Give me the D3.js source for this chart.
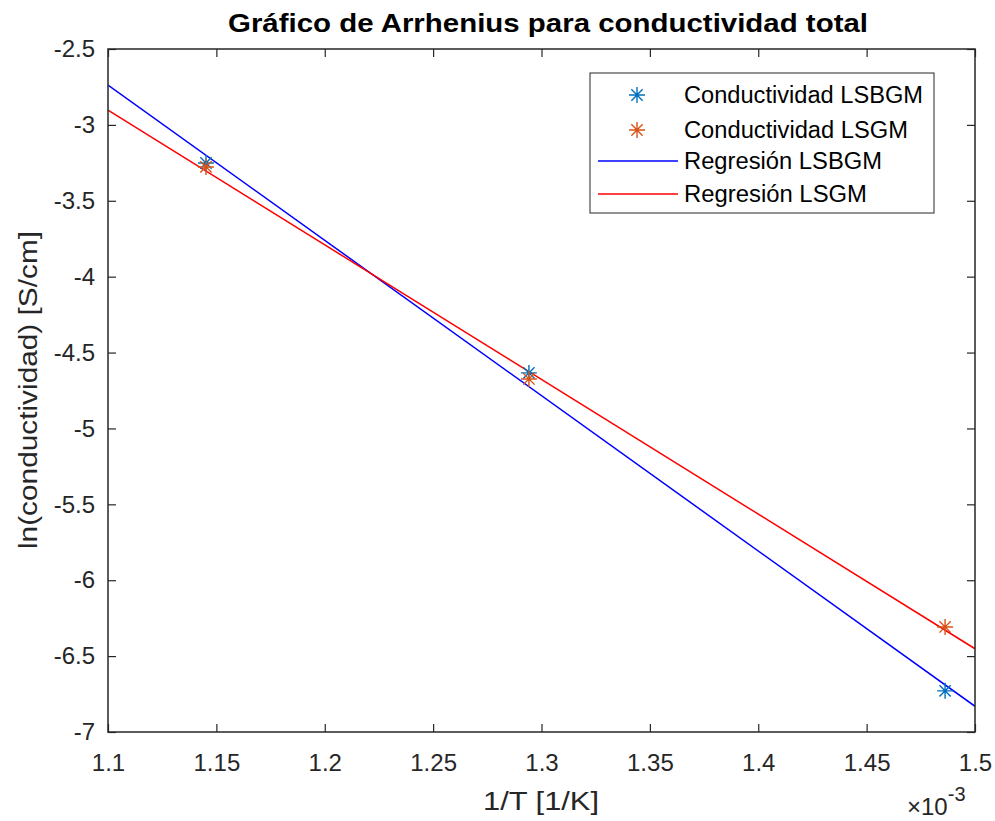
<!DOCTYPE html>
<html>
<head>
<meta charset="utf-8">
<script src="https://cdn.jsdelivr.net/npm/d3@7/dist/d3.min.js"></script>
<style>
  html, body { margin: 0; padding: 0; background: #fff; }
  svg { display: block; font-family: "Liberation Sans", Arial, Helvetica, sans-serif; }
</style>
</head>
<body>
<svg id="chart" width="995" height="821"></svg>
<script>
// ---- data (x in 1/K, y = ln(conductividad)) ----
const invT = [0.0011452, 0.0012942, 0.0014862];
const lsbgm = [-3.251, -4.634, -6.729];
const lsgm  = [-3.277, -4.674, -6.308];
const seriesNames = ["Conductividad LSBGM", "Conductividad LSGM", "Regresión LSBGM", "Regresión LSGM"];
const xTickValues = [0.0011, 0.00115, 0.0012, 0.00125, 0.0013, 0.00135, 0.0014, 0.00145, 0.0015];
const xTickLabels = ["1.1", "1.15", "1.2", "1.25", "1.3", "1.35", "1.4", "1.45", "1.5"];
const yTickValues = [-2.5, -3, -3.5, -4, -4.5, -5, -5.5, -6, -6.5, -7];
const yTickLabels = ["-2.5", "-3", "-3.5", "-4", "-4.5", "-5", "-5.5", "-6", "-6.5", "-7"];
const xDomain = [0.0011, 0.0015];
const yDomain = [-7, -2.5];

// ---- layout ----
const L = 108, R = 975, T = 49, B = 732;
const axisColor = "#262626";
const svg = d3.select("#chart");

const x = d3.scaleLinear().domain(xDomain).range([L, R]);
const y = d3.scaleLinear().domain(yDomain).range([B, T]);

function fit(xs, ys) {
  const mx = d3.mean(xs), my = d3.mean(ys);
  let sxy = 0, sxx = 0;
  xs.forEach((v, i) => { sxy += (v - mx) * (ys[i] - my); sxx += (v - mx) * (v - mx); });
  const m = sxy / sxx;
  return v => my + m * (v - mx);
}
const fitB = fit(invT, lsbgm);
const fitG = fit(invT, lsgm);

// clip
svg.append("defs").append("clipPath").attr("id", "clip")
  .append("rect").attr("x", L).attr("y", T).attr("width", R - L).attr("height", B - T);

// regression lines
const line = d3.line().x(d => x(d[0])).y(d => y(d[1]));
const plot = svg.append("g").attr("clip-path", "url(#clip)");
plot.append("path").datum(xDomain.map(v => [v, fitB(v)]))
  .attr("d", line).attr("fill", "none").attr("stroke", "#0000FF").attr("stroke-width", 1.5);
plot.append("path").datum(xDomain.map(v => [v, fitG(v)]))
  .attr("d", line).attr("fill", "none").attr("stroke", "#FF0000").attr("stroke-width", 1.5);

// asterisk markers
function star(g, cx, cy, color, r) {
  const d = r * Math.SQRT1_2;
  const p = `M${cx - r},${cy}L${cx + r},${cy}M${cx},${cy - r}L${cx},${cy + r}` +
            `M${cx - d},${cy - d}L${cx + d},${cy + d}M${cx - d},${cy + d}L${cx + d},${cy - d}`;
  g.append("path").attr("d", p).attr("stroke", color).attr("stroke-width", 1.4).attr("fill", "none");
}
const mk = svg.append("g");
invT.forEach((v, i) => star(mk, x(v), y(lsbgm[i]), "#0072BD", 8));
invT.forEach((v, i) => star(mk, x(v), y(lsgm[i]), "#D95319", 8));

// axes
const tickLen = 8;
const xAxisB = d3.axisBottom(x).tickValues(xTickValues).tickFormat((d, i) => xTickLabels[i]).tickSizeInner(-tickLen).tickSizeOuter(0).tickPadding(22);
const xAxisT = d3.axisTop(x).tickValues(xTickValues).tickFormat("").tickSizeInner(-tickLen).tickSizeOuter(0);
const yAxisL = d3.axisLeft(y).tickValues(yTickValues).tickFormat((d, i) => yTickLabels[i]).tickSizeInner(-tickLen).tickSizeOuter(0).tickPadding(13);
const yAxisR = d3.axisRight(y).tickValues(yTickValues).tickFormat("").tickSizeInner(-tickLen).tickSizeOuter(0);

function style(g) {
  g.select(".domain").remove();
  g.selectAll(".tick line").attr("stroke", axisColor).attr("stroke-width", 1.2);
  g.selectAll(".tick text").attr("fill", axisColor).attr("font-size", 24)
    .attr("font-family", "Liberation Sans, Arial, sans-serif");
}
svg.append("g").attr("transform", `translate(0,${B})`).call(xAxisB).call(style);
svg.append("g").attr("transform", `translate(0,${T})`).call(xAxisT).call(style);
svg.append("g").attr("transform", `translate(${L},0)`).call(yAxisL).call(style);
svg.append("g").attr("transform", `translate(${R},0)`).call(yAxisR).call(style);

// box
svg.append("rect").attr("x", L).attr("y", T).attr("width", R - L).attr("height", B - T)
  .attr("fill", "none").attr("stroke", axisColor).attr("stroke-width", 1.5);

// exponent
const ex = svg.append("text").attr("x", 907).attr("y", 815).attr("fill", axisColor).attr("font-size", 24);
ex.append("tspan").text("×10");
ex.append("tspan").attr("dy", -14).attr("font-size", 20).text("-3");

// title & labels
svg.append("text").attr("x", 548).attr("y", 32).attr("text-anchor", "middle")
  .attr("font-weight", "bold").attr("font-size", 26).attr("fill", "#000")
  .attr("textLength", 640).attr("lengthAdjust", "spacingAndGlyphs")
  .text("Gráfico de Arrhenius para conductividad total");
svg.append("text").attr("x", 541).attr("y", 810).attr("text-anchor", "middle")
  .attr("font-size", 26).attr("fill", axisColor)
  .attr("textLength", 116).attr("lengthAdjust", "spacingAndGlyphs")
  .text("1/T [1/K]");
svg.append("text").attr("transform", "translate(37,390) rotate(-90)").attr("text-anchor", "middle")
  .attr("font-size", 26).attr("fill", axisColor)
  .attr("textLength", 318).attr("lengthAdjust", "spacingAndGlyphs")
  .text("ln(conductividad) [S/cm]");

// legend
const lg = svg.append("g");
lg.append("rect").attr("x", 590).attr("y", 73).attr("width", 344).attr("height", 140)
  .attr("fill", "#fff").attr("stroke", axisColor).attr("stroke-width", 1);
const rowsY = [95, 130, 161, 194];
const legendWidths = [239, 224, 198, 183];
star(lg, 637, rowsY[0], "#0072BD", 8);
star(lg, 637, rowsY[1], "#D95319", 8);
lg.append("line").attr("x1", 598).attr("x2", 678).attr("y1", rowsY[2]).attr("y2", rowsY[2]).attr("stroke", "#0000FF").attr("stroke-width", 1.5);
lg.append("line").attr("x1", 598).attr("x2", 678).attr("y1", rowsY[3]).attr("y2", rowsY[3]).attr("stroke", "#FF0000").attr("stroke-width", 1.5);
seriesNames.forEach((s, i) => {
  lg.append("text").attr("x", 684).attr("y", rowsY[i] + 8).attr("font-size", 23).attr("fill", "#000")
    .attr("textLength", legendWidths[i]).attr("lengthAdjust", "spacingAndGlyphs").text(s);
});
</script>
</body>
</html>
